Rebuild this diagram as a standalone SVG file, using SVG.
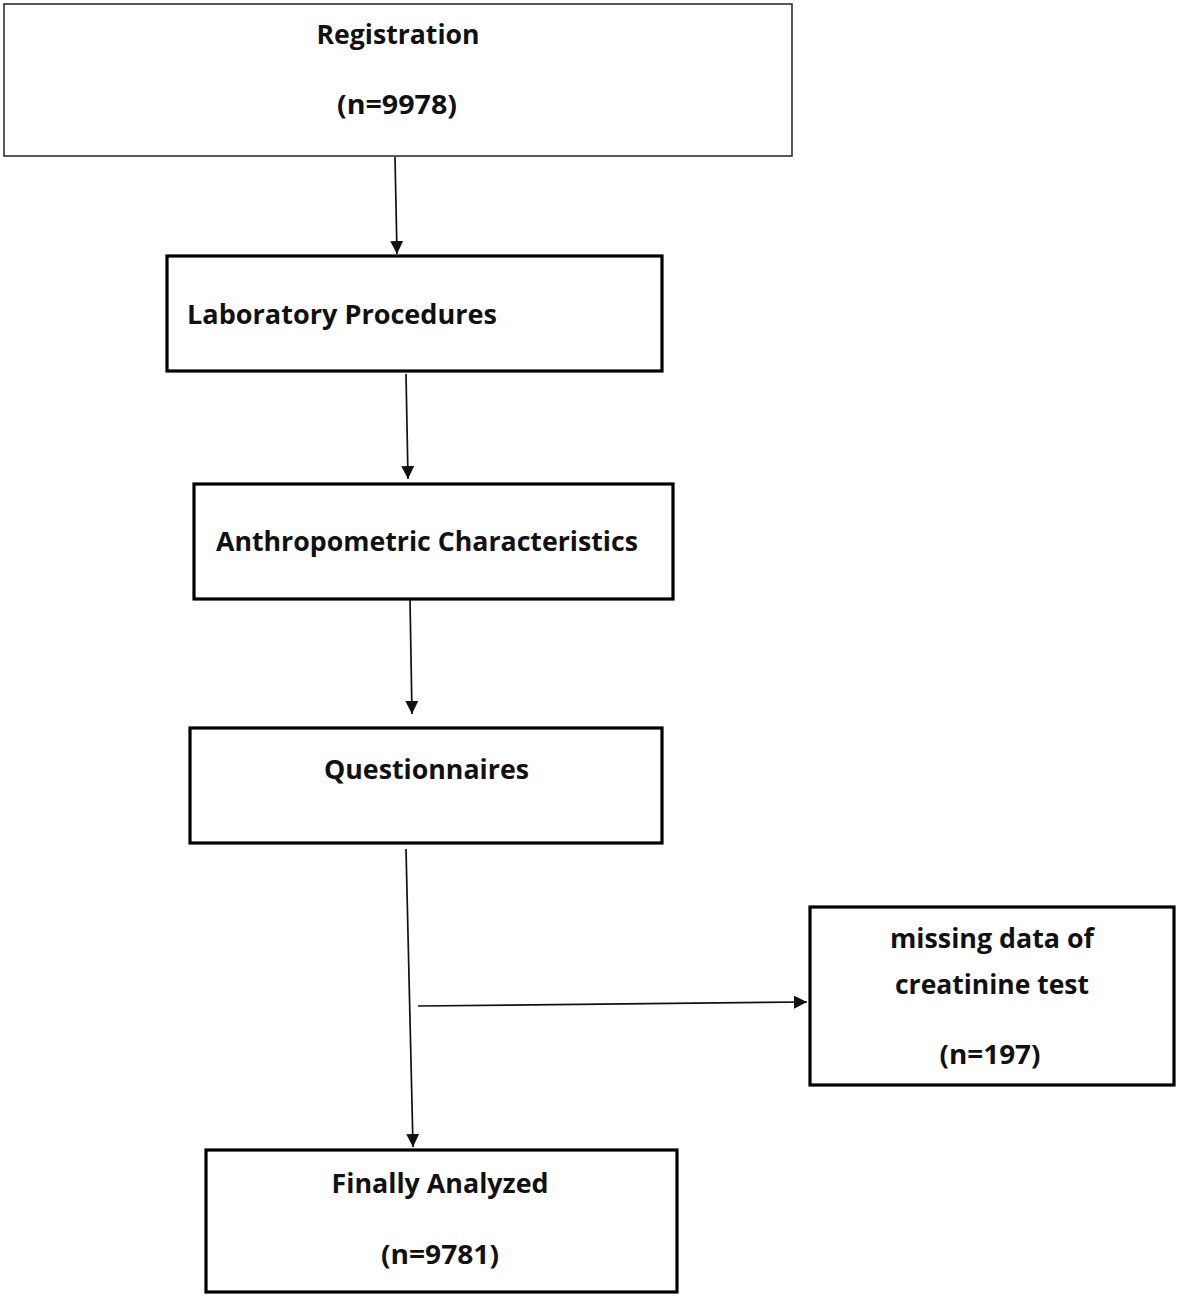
<svg xmlns="http://www.w3.org/2000/svg" width="1180" height="1298" viewBox="0 0 1180 1298">
<style>
.box{fill:#fff;stroke:#000;stroke-width:3.2}
.thin{stroke-width:1.5;stroke:#222}
.t{font-family:"Open Sans","Liberation Sans",sans-serif;font-weight:bold;font-size:26px;fill:#111;text-anchor:middle}
.tl{text-anchor:start}
.c{stroke:#111;stroke-width:1.7;fill:none}
</style>
<defs>
<marker id="ah" viewBox="0 0 10 10" refX="10" refY="5" markerWidth="13" markerHeight="13" markerUnits="userSpaceOnUse" orient="auto">
<path d="M0,0 L10,5 L0,10 z" fill="#111"/>
</marker>
</defs>
<rect width="1180" height="1298" fill="#fff"/>
<g id="n1">
<rect class="box thin" x="4" y="4" width="788" height="152"/>
<text class="t" x="398" y="44" textLength="163" lengthAdjust="spacingAndGlyphs">Registration</text>
<text class="t" x="397" y="114" textLength="120" lengthAdjust="spacingAndGlyphs">(n=9978)</text>
</g>
<g id="n2">
<rect class="box" x="167" y="256" width="495" height="115"/>
<text class="t tl" x="187" y="324" textLength="310" lengthAdjust="spacingAndGlyphs">Laboratory Procedures</text>
</g>
<g id="n3">
<rect class="box" x="194" y="484" width="479" height="115"/>
<text class="t tl" x="216" y="551" textLength="422" lengthAdjust="spacingAndGlyphs">Anthropometric Characteristics</text>
</g>
<g id="n4">
<rect class="box" x="190" y="728" width="472" height="115"/>
<text class="t tl" x="324" y="779" textLength="205" lengthAdjust="spacingAndGlyphs">Questionnaires</text>
</g>
<g id="n5">
<rect class="box" x="810" y="907" width="364" height="178"/>
<text class="t" x="992" y="948" textLength="204" lengthAdjust="spacingAndGlyphs">missing data of</text>
<text class="t" x="992" y="994" textLength="194" lengthAdjust="spacingAndGlyphs">creatinine test</text>
<text class="t" x="990" y="1064" textLength="101" lengthAdjust="spacingAndGlyphs">(n=197)</text>
</g>
<g id="n6">
<rect class="box" x="206" y="1150" width="471" height="142"/>
<text class="t" x="440" y="1193" textLength="217" lengthAdjust="spacingAndGlyphs">Finally Analyzed</text>
<text class="t" x="440" y="1264" textLength="118" lengthAdjust="spacingAndGlyphs">(n=9781)</text>
</g>
<g id="connectors">
<line class="c" x1="395" y1="157" x2="397" y2="254" marker-end="url(#ah)"/>
<line class="c" x1="406" y1="374" x2="408" y2="479" marker-end="url(#ah)"/>
<line class="c" x1="410" y1="600" x2="412" y2="714" marker-end="url(#ah)"/>
<line class="c" x1="406" y1="849" x2="413" y2="1147" marker-end="url(#ah)"/>
<line class="c" x1="418" y1="1006" x2="807" y2="1002" marker-end="url(#ah)"/>
</g>
</svg>
